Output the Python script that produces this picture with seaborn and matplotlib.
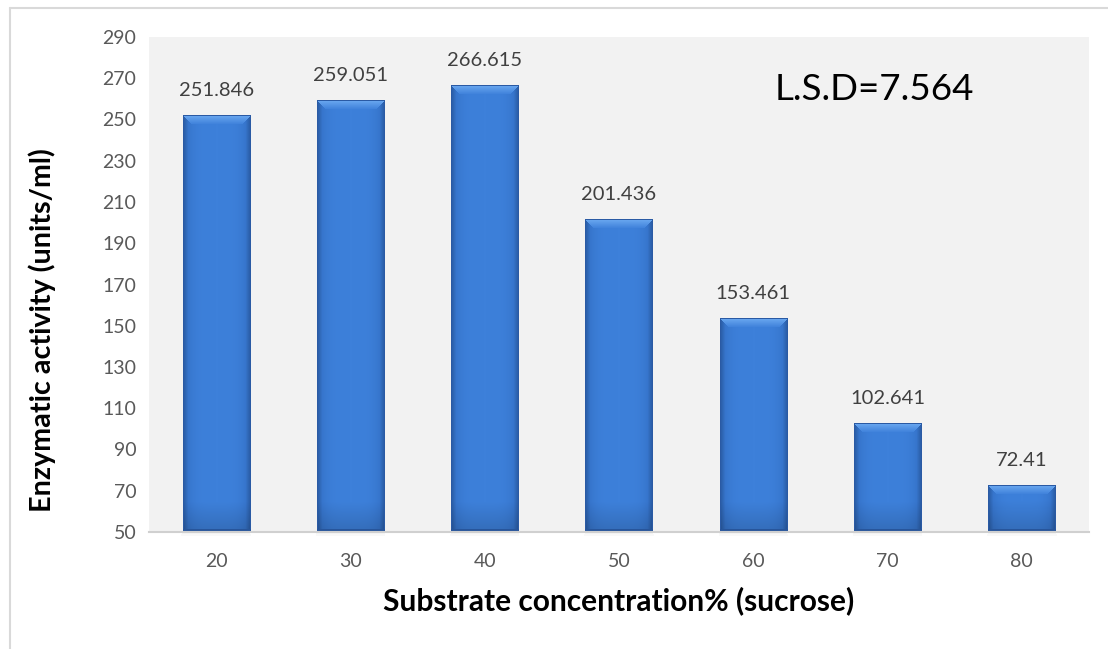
import numpy as np
import pandas as pd
import matplotlib
matplotlib.use("Agg")
import matplotlib.pyplot as plt
import seaborn as sns
from matplotlib.lines import Line2D

# Data
concentration = ["20", "30", "40", "50", "60", "70", "80"]
activity = [251.846, 259.051, 266.615, 201.436, 153.461, 102.641, 72.41]
value_labels = ["251.846", "259.051", "266.615", "201.436", "153.461", "102.641", "72.41"]
y_ticks = [50, 70, 90, 110, 130, 150, 170, 190, 210, 230, 250, 270, 290]
lsd_text = "L.S.D=7.564"
x_title = "Substrate concentration% (sucrose)"
y_title = "Enzymatic activity (units/ml)"

df = pd.DataFrame({"concentration": concentration, "activity": activity})

sns.set_theme(style="white")
plt.rcParams["font.family"] = ["Lato", "DejaVu Sans"]

fig = plt.figure(figsize=(11.08, 6.49), dpi=100)
ax = fig.add_axes([149 / 1108, 1 - 532 / 649, 940 / 1108, 495 / 649])
ax.set_facecolor("#F2F2F2")

sns.barplot(data=df, x="concentration", y="activity", color="#3B7CD6",
            width=0.5, saturation=1, ax=ax, zorder=2, linewidth=0)
ax.set_xlim(-0.5, len(concentration) - 0.5)
ax.set_ylim(50, 290)
ax.set_yticks(y_ticks)
ax.set_xlabel(x_title, fontsize=21.5, fontweight="bold", color="black", labelpad=12)
ax.set_ylabel(y_title, fontsize=20.7, fontweight="bold", color="black")
ax.yaxis.set_label_coords(-0.099, 0.408)
ax.tick_params(axis="y", length=0, labelsize=14, colors="#595959", pad=9)
ax.tick_params(axis="x", length=0, labelsize=14, colors="#595959", pad=15)
for side in ["left", "right", "top"]:
    ax.spines[side].set_visible(False)
ax.spines["bottom"].set_color("#D0D0D0")
ax.spines["bottom"].set_linewidth(1.5)
ax.spines["bottom"].set_zorder(4)

# Bevelled shading drawn over every bar
fig.canvas.draw()
edge = np.array([0x30, 0x6A, 0xBE]) / 255
mid = np.array([0x3D, 0x80, 0xDA]) / 255
light = np.array([0x6A, 0xA8, 0xF0]) / 255
dark = np.array([0x2A, 0x5A, 0xA4]) / 255
for patch in list(ax.patches):
    x0 = patch.get_x()
    w = patch.get_width()
    top = patch.get_height()
    bottom = 50
    p0 = ax.transData.transform((x0, bottom))
    p1 = ax.transData.transform((x0 + w, top))
    W = max(int(round(p1[0] - p0[0])), 4)
    H = max(int(round(p1[1] - p0[1])), 4)
    cols = np.arange(W)
    rows = np.arange(H)
    t = np.abs(2 * (cols + 0.5) / W - 1)
    body = mid[None, :] * (1 - t[:, None] ** 4) + edge[None, :] * (t[:, None] ** 4)
    img = np.repeat(body[None, :, :], H, axis=0)
    # gentle darkening towards the foot of the bar
    db = (H - 1 - rows).astype(float)
    foot = np.clip(1 - db / 30.0, 0, 1)[:, None, None]
    img = img * (1 - 0.15 * foot)
    b = 9
    ds = np.minimum(cols, W - 1 - cols)[None, :].astype(float)
    dt = rows[:, None].astype(float)
    top_zone = (dt < b) & (dt <= ds)
    side_zone = (ds < 5) & ~top_zone
    f = (dt / b)[..., None]
    top_col = light * (1 - f) + mid * f
    img = np.where(top_zone[..., None], top_col, img)
    side_f = (ds / 5.0)[..., None]
    img = np.where(side_zone[..., None], img * (0.85 + 0.15 * side_f), img)
    img[0, :, :] = dark
    img[:, 0, :] = dark
    img[:, -1, :] = dark
    img[-3:, :, :] = dark * 0.95
    ax.imshow(np.clip(img, 0, 1), extent=(x0, x0 + w, bottom, top), aspect="auto",
              origin="upper", zorder=3, interpolation="nearest")
    # soft shadow under the foot of each bar
    for k, a in enumerate([0.10, 0.07, 0.04]):
        ax.add_patch(plt.Rectangle((x0 - 0.004 * k, 50 - 0.6 * (k + 1)), w + 0.008 * k, 0.6,
                                   color="#7F7F7F", alpha=a, lw=0, zorder=3.5,
                                   clip_on=False))
    patch.set_visible(False)

ax.set_xlim(-0.5, len(concentration) - 0.5)
ax.set_ylim(50, 290)

# Value labels above bars
for i, (v, lab) in enumerate(zip(activity, value_labels)):
    ax.annotate(lab, (i, v), xytext=(0, 12), textcoords="offset points",
                ha="center", va="bottom", fontsize=14.5, color="#404040", zorder=5)

ax.text(0.772, 0.893, lsd_text, transform=ax.transAxes, ha="center", va="center",
        fontsize=26.5, color="black")

# Chart frame
fig.add_artist(Line2D([10 / 1108, 10 / 1108], [0, 1 - 8 / 649], transform=fig.transFigure,
                      color="#D9D9D9", lw=1.5))
fig.add_artist(Line2D([10 / 1108, 1], [1 - 8 / 649, 1 - 8 / 649], transform=fig.transFigure,
                      color="#D9D9D9", lw=1.5))

fig.savefig("out.png", dpi=100, facecolor="white")
